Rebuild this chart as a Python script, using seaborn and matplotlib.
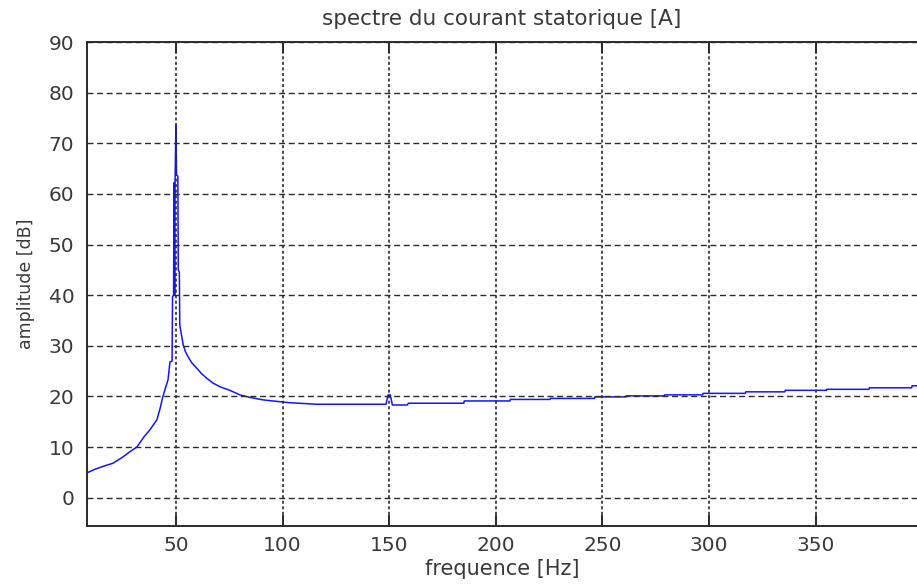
import matplotlib
matplotlib.use("Agg")
import matplotlib.pyplot as plt
import seaborn as sns
import pandas as pd

# Stator current spectrum: frequency [Hz] and amplitude [dB]
frequence = [
    8.3, 12, 16, 20.5, 25, 28.5, 31.7, 35, 37.8, 41.1, 42.5, 43.9, 45.2, 46.3,
    47.2, 48.2, 48.4, 48.9, 49.1, 49.4, 49.6, 50.0, 50.3, 50.9, 51.1, 51.6,
    51.8, 53.4, 54.5, 56, 57.5, 59.7, 62, 64.4, 67.5, 70.7, 75.3, 80, 84.7,
    91, 98.8, 103.5, 116, 148.5,
    149.5, 150.5, 151.5, 158.5, 159, 185, 185.2, 206.6, 206.8, 225.4, 225.6,
    246.3, 246.5, 261, 261.2, 279, 279.2, 297, 297.2, 317, 317.2, 335.5,
    335.7, 355, 355.2, 375, 375.2, 395, 395.2, 398,
]
amplitude = [
    4.9, 5.6, 6.2, 6.8, 8.0, 9.1, 10.0, 12.0, 13.4, 15.4, 17.5, 20.0, 21.8, 23.3,
    26.8, 27.0, 39.7, 40.0, 62.2, 40.0, 62.5, 73.6, 63.7, 63.5, 45.0, 44.5,
    34.1, 30.2, 28.8, 27.6, 26.6, 25.6, 24.5, 23.6, 22.6, 21.9, 21.2, 20.3, 19.8,
    19.3, 18.95, 18.75, 18.45, 18.45,
    20.3, 20.3, 18.3, 18.3, 18.65, 18.65, 19.1, 19.1, 19.4, 19.4, 19.6,
    19.6, 19.9, 19.9, 20.1, 20.1, 20.3, 20.3, 20.6, 20.6, 20.9, 20.9,
    21.2, 21.2, 21.4, 21.4, 21.7, 21.7, 22.1, 22.1,
]
xticks = [50, 100, 150, 200, 250, 300, 350]
yticks = [0, 10, 20, 30, 40, 50, 60, 70, 80, 90]

df = pd.DataFrame({"frequence": frequence, "amplitude": amplitude})

sns.set_theme(style="white")
plt.rcParams["font.family"] = ["DejaVu Sans"]
plt.rcParams["lines.scale_dashes"] = False

text_color = "#3a3a3a"
frame_color = "#2b2b2b"

fig = plt.figure(figsize=(9.17, 5.85), dpi=100)
ax = fig.add_axes([87 / 917, 59 / 585, 1 - 87 / 917, (526 - 42) / 585])

sns.lineplot(data=df, x="frequence", y="amplitude", ax=ax, sort=False,
             estimator=None, color="#1414ff", linewidth=1.1, zorder=1)

ax.set_xlim(8.3, 397.5)
ax.set_ylim(-5.6, 90)
ax.set_xticks(xticks)
ax.set_yticks(yticks)

# horizontal grid dashed, vertical grid dotted, drawn over the curve
ax.set_axisbelow(False)
ax.yaxis.grid(True, linestyle=(0, (4.3, 2.6)), color=frame_color, linewidth=1.0)
ax.xaxis.grid(True, linestyle=(0, (2.2, 1.8)), color=frame_color, linewidth=1.2)

for side in ("left", "top", "bottom"):
    ax.spines[side].set_color(frame_color)
    ax.spines[side].set_linewidth(1.4)
ax.spines["right"].set_visible(False)

ax.tick_params(axis="x", direction="in", length=8, width=1.4, color=frame_color,
               top=True, bottom=True, labelsize=14.5, labelcolor=text_color, pad=7)
ax.tick_params(axis="y", direction="in", length=0, width=1.4, color=frame_color,
               left=True, labelsize=14.5, labelcolor=text_color, pad=9)

ax.set_title("spectre du courant statorique [A]", fontsize=15.5, color=text_color, pad=12)
ax.set_xlabel("frequence [Hz]", fontsize=15, color=text_color, labelpad=3)
ax.set_ylabel("amplitude [dB]", fontsize=12.5, color=text_color, labelpad=10)

fig.savefig("out.png", dpi=100, facecolor="white")
